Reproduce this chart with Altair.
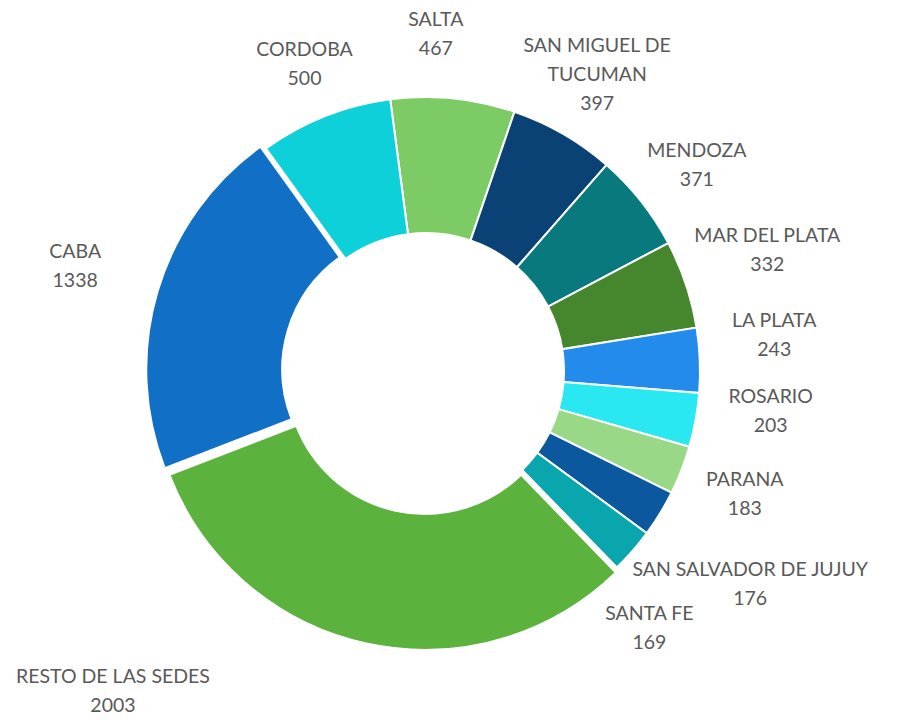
import math
import altair as alt
import pandas as pd

# ---- data ----
categories = [
    "SALTA", "SAN MIGUEL DE TUCUMAN", "MENDOZA", "MAR DEL PLATA", "LA PLATA",
    "ROSARIO", "PARANA", "SAN SALVADOR DE JUJUY", "SANTA FE",
    "RESTO DE LAS SEDES", "CABA", "CORDOBA",
]
values = [467, 397, 371, 332, 243, 203, 183, 176, 169, 2003, 1338, 500]
colors = [
    "#7dcb65", "#0b4275", "#087a7e", "#46872e", "#238beb",
    "#2ae8f2", "#98d886", "#0c589e", "#0aa6ad",
    "#5bb33d", "#116fc6", "#0dd0d8",
]

# ---- styling / layout ----
label_wrap = {"SAN MIGUEL DE TUCUMAN": "SAN MIGUEL DE\nTUCUMAN"}
exploded = {"RESTO DE LAS SEDES": 5, "CABA": 6}          # px pushed outwards
LABEL_R = 342
LINE_H = 29
label_nudge = {                                            # (deg from slice middle, radius px)
    "SALTA": (-4, 337), "MENDOZA": (1.1, 340), "MAR DEL PLATA": (-1, 362),
    "LA PLATA": (-3.5, 350), "ROSARIO": (-3.7, 347), "SAN SALVADOR DE JUJUY": (2, 388),
    "SANTA FE": (8, 341), "RESTO DE LAS SEDES": (32, 448), "CABA": (0, 366),
    "CORDOBA": (0, 330),
}
W, H = 880, 712
CX, CY = 418, 363
R_OUT, R_IN = 274, 138
START = math.radians(-7.5)
total = sum(values)

df = pd.DataFrame({"cat": categories, "value": values, "order": list(range(len(categories)))})
df["label"] = [label_wrap.get(c, c) + "\n" + str(v) for c, v in zip(categories, values)]
df["nlines"] = [lab.count("\n") + 1 for lab in df["label"]]
df["explode"] = [exploded.get(c, 0) for c in categories]
df["dtheta"] = [label_nudge.get(c, (0, LABEL_R))[0] for c in categories]
df["lr"] = [label_nudge.get(c, (0, LABEL_R))[1] for c in categories]

base = alt.Chart(df).transform_window(
    cum="sum(value)", sort=[alt.SortField("order")], frame=[None, 0]
).transform_calculate(
    start="datum.cum - datum.value",
    mid=f"{START} + 2*PI*(datum.cum - datum.value/2)/{total}",
)

arcs = base.transform_calculate(
    cx=f"{CX} + datum.explode*sin(datum.mid)",
    cy=f"{CY} - datum.explode*cos(datum.mid)",
).mark_arc(outerRadius=R_OUT, innerRadius=R_IN, stroke="white", strokeWidth=2).encode(
    theta=alt.Theta("start:Q", stack=None,
                    scale=alt.Scale(domain=[0, total], range=[START, START + 2 * math.pi])),
    theta2="cum:Q",
    x=alt.X("cx:Q", scale=None),
    y=alt.Y("cy:Q", scale=None),
    color=alt.Color("cat:N", scale=alt.Scale(domain=categories, range=colors), legend=None),
    order=alt.Order("order:Q"),
)

labels = base.transform_calculate(
    la="datum.mid + datum.dtheta*PI/180",
    lx=f"{CX} + datum.lr*sin(datum.la)",
    ly=f"{CY} - datum.lr*cos(datum.la) - (datum.nlines - 1)*{LINE_H}/2",
).mark_text(
    font="Lato", fontSize=19.5, color="#595959", lineBreak="\n", lineHeight=LINE_H,
    align="center", baseline="middle",
).encode(
    x=alt.X("lx:Q", scale=None),
    y=alt.Y("ly:Q", scale=None),
    text="label:N",
)

chart = alt.layer(arcs, labels).properties(
    width=W, height=H, autosize=alt.AutoSizeParams(type="none"), padding=0,
).configure_view(stroke=None)

chart.save("out.html", embed_options={"renderer": "svg", "actions": False})
